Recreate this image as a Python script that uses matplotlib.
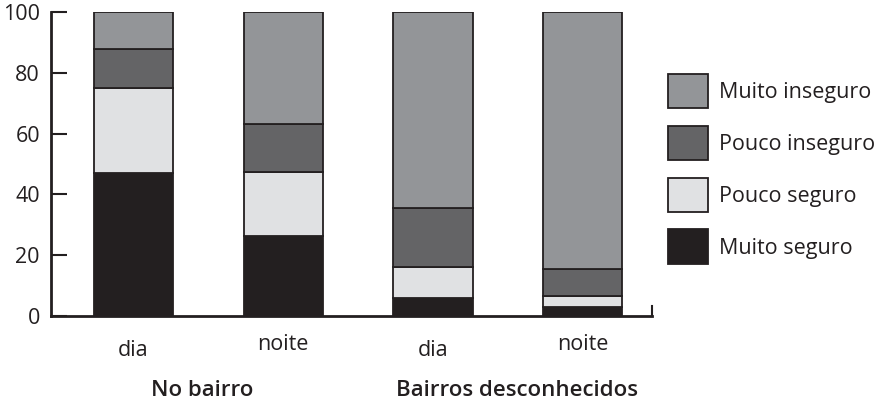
"""Stacked bars: sensação de segurança no bairro / em bairros desconhecidos, dia vs noite."""
import matplotlib
matplotlib.use("Agg")
import matplotlib.pyplot as plt  # noqa: E402
from matplotlib.patches import Patch  # noqa: E402

plt.rcParams["font.family"] = ["Open Sans", "DejaVu Sans"]

periods = ["dia", "noite", "dia", "noite"]
groups = ["No bairro", "Bairros desconhecidos"]
muito_seguro = [47.2, 26.5, 5.8, 3.0]
pouco_seguro = [28.0, 21.0, 10.4, 3.7]
pouco_inseguro = [12.7, 15.6, 19.2, 8.8]
muito_inseguro = [12.1, 36.9, 64.6, 84.5]

series = [
    ("Muito seguro", muito_seguro, "#231f20"),
    ("Pouco seguro", pouco_seguro, "#e0e1e3"),
    ("Pouco inseguro", pouco_inseguro, "#646466"),
    ("Muito inseguro", muito_inseguro, "#939598"),
]
INK = "#231f20"

fig = plt.figure(figsize=(8.83, 4.08), dpi=100)
ax = fig.add_axes([0.0578, 0.2255, 0.6802, 0.7445])

x = list(range(len(periods)))
bottom = [0.0] * len(periods)
for name, vals, col in series:
    ax.bar(x, vals, width=0.53, bottom=bottom, color=col,
           edgecolor=INK, linewidth=1.3, label=name, zorder=2)
    bottom = [b + v for b, v in zip(bottom, vals)]

ax.set_xlim(-0.55, 3.46)
ax.set_ylim(0, 100)
ax.set_yticks([0, 20, 40, 60, 80, 100])
ax.tick_params(axis="y", direction="in", length=11.5, width=1.5,
               labelsize=15.5, pad=8, colors=INK)
ax.set_xticks(x)
ax.set_xticklabels(periods, fontsize=15.5, color=INK)
ax.tick_params(axis="x", length=0, pad=17)
for lbl in ax.get_xticklabels()[1::2]:
    lbl.set_y(0.02)

for s in ["top", "right"]:
    ax.spines[s].set_visible(False)
for s in ["left", "bottom"]:
    ax.spines[s].set_linewidth(2)
    ax.spines[s].set_color(INK)
# small upward tick closing the x axis on the right
ax.plot([1, 1], [0, 0.033], transform=ax.transAxes, color=INK,
        lw=1.5, clip_on=False)

fig.text(202 / 883, 1 - 390 / 408, groups[0], ha="center", va="center",
         fontsize=16, fontweight="semibold", color=INK)
fig.text(517 / 883, 1 - 390 / 408, groups[1], ha="center", va="center",
         fontsize=16, fontweight="semibold", color=INK)

handles = [Patch(facecolor=c, edgecolor=INK, linewidth=1.3, label=n)
           for n, _, c in reversed(series)]
fig.legend(handles=handles, loc="center left", bbox_to_anchor=(0.7565, 0.586),
           frameon=False, fontsize=15.5, handlelength=1.86, handleheight=2.1,
           labelspacing=0.8, handletextpad=0.5, borderpad=0,
           borderaxespad=0, labelcolor=INK)

fig.savefig("out.png", dpi=100)
